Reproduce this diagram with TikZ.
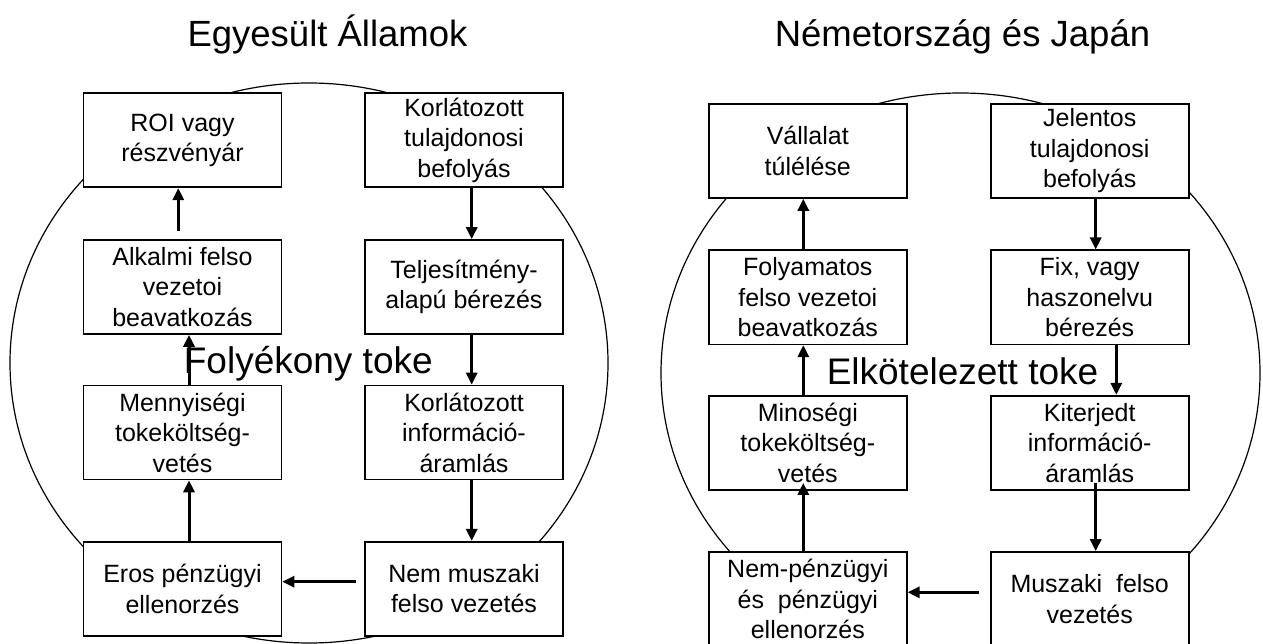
\documentclass[tikz,border=0pt]{standalone}
\usepackage{fontspec}
\setmainfont{Liberation Sans}
\usetikzlibrary{arrows.meta}

% a tall invisible strut at the start of each box pushes its text block a little lower
\newcommand{\topstrut}{\rule{0pt}{26.5pt}}

\tikzset{
  box/.style={draw, line width=1.6pt, fill=white, minimum width=198pt, minimum height=94pt,
    inner sep=0pt, align=center, font=\fontsize{25}{30.5}\selectfont,
    execute at begin node=\topstrut},
  arr/.style={line width=3pt, -{Triangle[length=12pt,width=11pt]}},
  ring/.style={line width=1.2pt},
  bigtext/.style={anchor=base, inner sep=0pt, font=\fontsize{37}{44}\selectfont},
  title/.style={anchor=base, inner sep=0pt, font=\fontsize{36.5}{43}\selectfont}
}

\begin{document}
\begin{tikzpicture}[x=1pt, y=-1pt]
\useasboundingbox (0,0) rectangle (1263,644);

% headings
\node[title] (t1) at (327.5,47) {Egyesült Államok};
\node[title] (t2) at (962.5,47) {Németország és Japán};

% outline rings
\draw[ring] (309,363) ellipse [x radius=299, y radius=280];
\draw[ring] (960.5,373) ellipse [x radius=299.5, y radius=280];

% ---- left cycle ----
\node[bigtext] (fl) at (308.3,373) {Folyékony toke};

\node[box] (roi) at (182.5,140.3) {ROI vagy\\részvényár};
\node[box] (alk) at (182.5,287) {Alkalmi felso\\vezetoi\\beavatkozás};
\node[box] (men) at (182.5,432.5) {Mennyiségi\\tokeköltség-\\vetés};
\node[box] (ero) at (182.5,588.7) {Eros pénzügyi\\ellenorzés};

\node[box] (ktb) at (464,140.3) {Korlátozott\\tulajdonosi\\befolyás};
\node[box] (tel) at (464,287) {Teljesítmény-\\alapú bérezés};
\node[box] (kia) at (464,432.5) {Korlátozott\\információ-\\áramlás};
\node[box] (nem) at (464,588.7) {Nem muszaki\\felso vezetés};

\draw[arr] ([xshift=7.7pt]ktb.south) -- ([xshift=7.7pt]tel.north);
\draw[arr] ([xshift=7.7pt]tel.south) -- ([xshift=7.7pt]kia.north);
\draw[arr] ([xshift=7.7pt]kia.south) -- ([xshift=7.7pt]nem.north);
\draw[arr, shorten <=8.3pt] ([yshift=7pt]nem.west) -- ([yshift=7pt]ero.east);
\draw[arr] ([xshift=6.5pt]ero.north) -- ([xshift=6.5pt]men.south);
\draw[arr] ([xshift=6.5pt]men.north) -- ([xshift=6.5pt]alk.south);
\draw[arr, shorten <=8pt] ([xshift=-4.2pt]alk.north) -- ([xshift=-4.2pt]roi.south);

% ---- right cycle ----
\node[bigtext] (el) at (962.5,384) {Elkötelezett toke};

\node[box] (val) at (807.8,151) {Vállalat\\túlélése};
\node[box] (fol) at (807.8,297.3) {Folyamatos\\felso vezetoi\\beavatkozás};
\node[box] (min) at (807.8,442.7) {Minoségi\\tokeköltség-\\vetés};
\node[box] (npe) at (807.8,599) {Nem-pénzügyi\\és~~pénzügyi\\ellenorzés};

\node[box] (jel) at (1089.7,151) {Jelentos\\tulajdonosi\\befolyás};
\node[box] (fix) at (1089.7,297.3) {Fix, vagy\\haszonelvu\\bérezés};
\node[box] (kit) at (1089.7,442.7) {Kiterjedt\\információ-\\áramlás};
\node[box] (mus) at (1089.7,599) {Muszaki~~felso\\vezetés};

\draw[arr] ([xshift=6pt]jel.south) -- ([xshift=6pt]fix.north);
\draw[arr] ([xshift=26.6pt]fix.south) -- ([xshift=26.6pt]kit.north);
\draw[arr, shorten <=-7.6pt] ([xshift=6pt]kit.south) -- ([xshift=6pt]mus.north);
\draw[arr, shorten <=11pt] ([yshift=6.7pt]mus.west) -- ([yshift=6.7pt]npe.east);
\draw[arr, shorten >=-7.6pt] ([xshift=-4.5pt]npe.north) -- ([xshift=-4.5pt]min.south);
\draw[arr] ([xshift=-4.5pt]min.north) -- ([xshift=-4.5pt]fol.south);
\draw[arr] ([xshift=-4.5pt]fol.north) -- ([xshift=-4.5pt]val.south);
\end{tikzpicture}
\end{document}
